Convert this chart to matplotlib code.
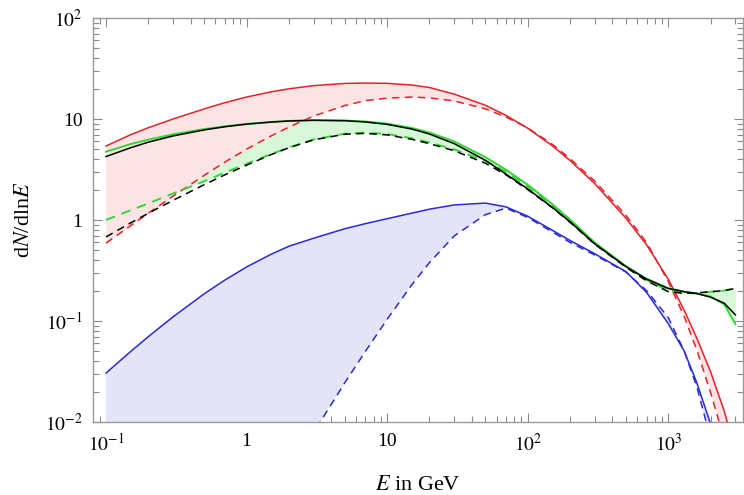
import matplotlib.pyplot as plt
from matplotlib.ticker import FixedLocator, FixedFormatter, LogLocator, NullFormatter

# energy grid in GeV
energy = [0.1, 0.15, 0.2, 0.3, 0.5, 0.7, 1, 1.5, 2, 3, 5, 7, 10, 15, 20, 30, 50, 70,
          100, 150, 200, 300, 500, 700, 1000, 1300, 1600, 2000, 2500, 3000]

# dN/dlnE for each spectrum, solid and dashed
red_solid = [5.4, 7.0, 8.2, 10.0, 12.6, 14.5, 16.5, 18.6, 19.9, 21.4, 22.5, 22.7, 22.55,
             21.7, 20.5, 17.65, 13.67, 10.87, 8.11, 5.41, 3.88, 2.29, 1.04, 0.568, 0.259,
             0.127, 0.0668, 0.0313, 0.0128, 0.0051]
red_dashed = [0.59, 0.881, 1.168, 1.724, 2.77, 3.74, 5.03, 6.82, 8.32, 10.7, 13.6, 15.2,
              16.1, 16.5, 16.2, 15.1, 12.6, 10.47, 8.16, 5.6, 4.05, 2.42, 1.11, 0.6,
              0.245, 0.110, 0.051, 0.0195, 0.0067, 0.0026]
green_solid = [4.75, 5.65, 6.25, 7.05, 7.95, 8.47, 8.94, 9.35, 9.57, 9.72, 9.67, 9.45, 8.99,
               8.15, 7.35, 6.0, 4.19, 3.15, 2.23, 1.43, 1.01, 0.596, 0.349, 0.262, 0.211,
               0.195, 0.187, 0.175, 0.146, 0.093]
green_dashed = [1.0, 1.25, 1.46, 1.83, 2.42, 2.95, 3.6, 4.5, 5.23, 6.27, 7.15, 7.32, 7.1,
                6.45, 5.85, 5.0, 3.85, 3.0, 2.15, 1.4, 1.0, 0.59, 0.345, 0.255, 0.2, 0.188,
                0.188, 0.195, 0.2, 0.212]
black_solid = [4.25, 5.2, 5.9, 6.8, 7.8, 8.38, 8.9, 9.33, 9.56, 9.72, 9.62, 9.35, 8.85, 7.95,
               7.1, 5.7, 3.9, 2.85, 2.03, 1.33, 0.96, 0.58, 0.345, 0.26, 0.21, 0.195, 0.187,
               0.172, 0.15, 0.115]
black_dashed = [0.68, 0.937, 1.166, 1.567, 2.24, 2.80, 3.49, 4.45, 5.19, 6.22, 7.07, 7.21,
                6.96, 6.29, 5.7, 4.85, 3.65, 2.8, 2.0, 1.32, 0.95, 0.575, 0.34, 0.25, 0.195,
                0.188, 0.19, 0.195, 0.2, 0.21]
blue_solid = [0.0305, 0.050, 0.070, 0.110, 0.186, 0.254, 0.343, 0.459, 0.55, 0.66, 0.82,
              0.92, 1.03, 1.17, 1.28, 1.41, 1.47, 1.35, 1.09, 0.79, 0.627, 0.463, 0.308,
              0.192, 0.094, 0.050, 0.0242, 0.0095, 0.0031, 0.0012]
blue_dashed = [4.5e-7, 1.7e-6, 4.3e-6, 1.5e-5, 6.9e-5, 1.8e-4, 4.8e-4, 1.4e-3, 2.9e-3,
               7.9e-3, 0.0245, 0.050, 0.104, 0.229, 0.379, 0.696, 1.13, 1.31, 1.06, 0.76,
               0.6, 0.45, 0.305, 0.2, 0.108, 0.05, 0.022, 0.0068, 0.0016, 0.0004]

x_ticks = [0.1, 1, 10, 100, 1000]
x_labels = [r"$10^{-1}$", "1", "10", r"$10^{2}$", r"$10^{3}$"]
y_ticks = [0.01, 0.1, 1, 10, 100]
y_labels = [r"$10^{-2}$", r"$10^{-1}$", "1", "10", r"$10^{2}$"]

plt.rcParams["font.family"] = ["Liberation Serif", "DejaVu Serif"]
plt.rcParams["mathtext.fontset"] = "stix"

fig = plt.figure(figsize=(7.44, 4.95), dpi=100)
ax = fig.add_axes([0.125, 0.1475, 0.8737, 0.8161])

# shaded bands between solid and dashed curves
ax.fill_between(energy, green_solid, green_dashed, color="#d8f7d8", lw=0, zorder=1)
ax.fill_between(energy, red_solid, red_dashed, color="#fde4e4", lw=0, zorder=2)
ax.fill_between(energy, blue_solid, blue_dashed, color="#e4e4f9", lw=0, zorder=2)

lw = 1.1
dash = (5, 3.5)
ax.plot(energy, red_solid, color="#e5222a", lw=lw, zorder=3)
ax.plot(energy, red_dashed, color="#e5222a", lw=lw, dashes=dash, zorder=3)
ax.plot(energy, green_solid, color="#33d633", lw=lw + 0.3, zorder=3)
ax.plot(energy, green_dashed, color="#33d633", lw=lw + 0.3, dashes=dash, zorder=3)
ax.plot(energy, black_solid, color="black", lw=lw, zorder=4)
ax.plot(energy, black_dashed, color="black", lw=lw, dashes=dash, zorder=4)
ax.plot(energy, blue_solid, color="#2a2ad6", lw=lw, zorder=4)
ax.plot(energy, blue_dashed, color="#2a2ad6", lw=lw, dashes=dash, zorder=4)

ax.set_xscale("log")
ax.set_yscale("log")
ax.set_xlim(0.0808, 3400)
ax.set_ylim(1e-2, 1e2)

ax.xaxis.set_major_locator(FixedLocator(x_ticks))
ax.xaxis.set_major_formatter(FixedFormatter(x_labels))
ax.yaxis.set_major_locator(FixedLocator(y_ticks))
ax.yaxis.set_major_formatter(FixedFormatter(y_labels))
ax.xaxis.set_minor_locator(LogLocator(base=10, subs=range(2, 10), numticks=20))
ax.yaxis.set_minor_locator(LogLocator(base=10, subs=range(2, 10), numticks=20))
ax.xaxis.set_minor_formatter(NullFormatter())
ax.yaxis.set_minor_formatter(NullFormatter())

ax.tick_params(which="both", direction="in", top=True, right=True, color="#8a8a8a",
               labelsize=14, labelcolor="black", width=0.8)
ax.tick_params(which="major", length=6.5)
ax.tick_params(which="minor", length=4)
ax.tick_params(axis="x", which="major", pad=8)
ax.tick_params(axis="y", which="major", pad=7.5)
for side in ax.spines.values():
    side.set_color("#9a9a9a")
    side.set_linewidth(1.0)

ax.set_xlabel(r"$E$ in GeV", fontsize=16, labelpad=15)
ax.set_ylabel(r"d$N$/dln$E$", fontsize=16, labelpad=8)

fig.savefig("out.png", dpi=100)
